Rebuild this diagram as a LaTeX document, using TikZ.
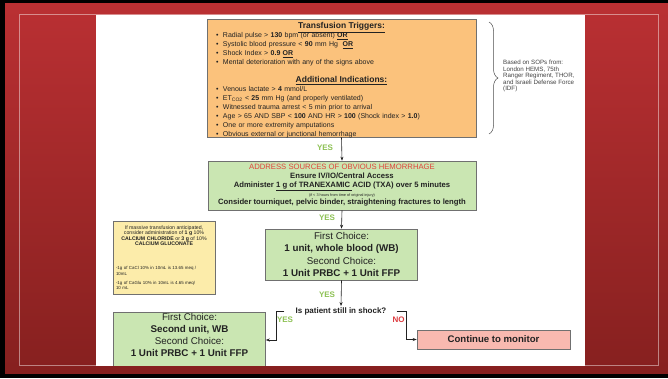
\documentclass[tikz,border=0pt]{standalone}
\usepackage{fontspec}
\setmainfont{Liberation Sans}
\usepackage{xcolor}
\usepackage{tikz}
\usetikzlibrary{arrows.meta, positioning, calc, decorations.pathreplacing}
\definecolor{mtpredtop}{HTML}{BA3033}
\definecolor{mtpredbottom}{HTML}{86201F}
\definecolor{mtporange}{HTML}{FBC27C}
\definecolor{mtpgreen}{HTML}{CAE6B2}
\definecolor{mtppink}{HTML}{F8B9B0}
\definecolor{mtpyellow}{HTML}{FCECAA}
\definecolor{mtpedge}{HTML}{707070}
\definecolor{mtpyes}{HTML}{8DC153}
\definecolor{mtpno}{HTML}{DD3A3E}
\definecolor{mtpalert}{HTML}{E0453B}
\definecolor{mtpcharcoal}{HTML}{222222}
\newcommand{\bul}{\makebox[7pt][l]{\textbullet}}

\begin{document}
\begin{tikzpicture}[
  x=1pt, y=-1pt,
  box/.style={draw=mtpedge, line width=0.6pt, align=center, inner sep=0pt, text=mtpcharcoal},
  trigbox/.style={box, fill=mtporange, minimum width=269pt, minimum height=118pt, align=left, text width=251pt, inner xsep=9pt, font=\fontsize{7}{9}\selectfont},
  txbox/.style={box, fill=mtpgreen, minimum width=268pt, minimum height=49pt, font=\fontsize{7.7}{8.8}\selectfont\bfseries},
  choice/.style={box, fill=mtpgreen, minimum width=152pt, minimum height=51pt, font=\fontsize{9.8}{12.3}\selectfont},
  notebox/.style={box, fill=mtpyellow, minimum width=102pt, minimum height=73pt, align=left, text width=96pt, inner xsep=3pt, font=\fontsize{4.4}{5.3}\selectfont},
  yes/.style={font=\fontsize{8}{9}\selectfont\bfseries, text=mtpyes, inner sep=0pt},
  no/.style={font=\fontsize{8}{9}\selectfont\bfseries, text=mtpno, inner sep=0pt},
  arr/.style={-{Stealth[length=4pt, width=3pt]}, line width=0.6pt, mtpcharcoal}
]
\useasboundingbox (0,0) rectangle (668,378);
\fill[black] (0,0) rectangle (668,378);
\shade[top color=mtpredtop, bottom color=mtpredbottom] (5,3) rectangle (668,373);
\fill[white] (96,14.5) rectangle (585,365.5);
\draw[white, opacity=0.45, line width=0.8pt] (19,14.3) rectangle (658,365.8);

\begin{scope}
\clip (96,14.5) rectangle (585,365.5);

\node[trigbox] (trig) at (341.5,78) {%
{\centering\fontsize{8.5}{9}\selectfont\bfseries\underline{Transfusion Triggers:}\par}
\bul Radial pulse > \textbf{130} bpm (or absent) \textbf{\underline{OR}}\\
\bul Systolic blood pressure < \textbf{90} mm Hg\ \ \textbf{\underline{OR}}\\
\bul Shock Index > \textbf{0.9} \textbf{\underline{OR}}\\
\bul Mental deterioration with any of the signs above\\[9pt]
{\centering\fontsize{8.5}{9}\selectfont\bfseries\underline{Additional Indications:}\par}
\bul Venous lactate > \textbf{4} mmol/L\\
\bul ET\textsubscript{CO2} < \textbf{25} mm Hg (and properly ventilated)\\
\bul Witnessed trauma arrest < 5 min prior to arrival\\
\bul Age > 65 AND SBP < \textbf{100} AND HR > \textbf{100} (Shock index > \textbf{1.0})\\
\bul One or more extremity amputations\\
\bul Obvious external or junctional hemorrhage\par
\vspace{-5pt}};

\draw[decorate, decoration={brace, amplitude=9pt}, mtpcharcoal!80, line width=0.5pt] (489,22) -- (489,134);
\node[anchor=west, align=left, inner sep=0pt, text=mtpcharcoal!85, font=\fontsize{6.2}{6.6}\selectfont] (sops) at (503,76) {Based on SOPs from:\\ London HEMS, 75th\\ Ranger Regiment, THOR,\\ and Israeli Defense Force\\ (IDF)};

\node[txbox] (tx) at (342,185.5) {%
{\mdseries\fontsize{7.7}{8.8}\selectfont\textcolor{mtpalert}{ADDRESS SOURCES OF OBVIOUS HEMORRHAGE}}\\
Ensure IV/IO/Central Access\\
Administer \underline{1 g of TRANEXAMIC }ACID (TXA) over 5 minutes\\
{\mdseries\fontsize{3.8}{4}\selectfont (if < 3 hours from time of original injury)}\\
Consider tourniquet, pelvic binder, straightening fractures to length};

\node[choice] (wb) at (341.5,254.5) {First Choice:\\ \textbf{1 unit, whole blood (WB)}\\ Second Choice:\\ \textbf{1 Unit PRBC + 1 Unit FFP}};

\node[notebox] (calc) at (164,257.5) {%
{\centering\fontsize{5.2}{5.4}\selectfont If massive transfusion anticipated,\\ consider administration of \textbf{1 g} 10\%\\ \textbf{CALCIUM CHLORIDE} or \textbf{3 g} of 10\%\\ \textbf{CALCIUM GLUCONATE}\par}
\vspace{19pt}
-1g of CaCl 10\% in 10mL is 13.65 meq /\\ 10mL\par
\vspace{3.6pt}
-1g of CaGlu 10\% in 10mL is 4.65 meq/\\ 10 mL};

\node[font=\fontsize{8}{9}\selectfont\bfseries, text=mtpcharcoal, inner sep=1pt] (shock) at (341,311) {Is patient still in shock?};

\node[choice, minimum height=56pt] (wb2) at (189.5,340) {};
\node[align=center, inner sep=0pt, text=mtpcharcoal, font=\fontsize{9.8}{12.3}\selectfont] (wb2txt) at (189.5,335) {First Choice:\\ \textbf{Second unit, WB}\\ Second Choice:\\ \textbf{1 Unit PRBC + 1 Unit FFP}};

\node[box, fill=mtppink, minimum width=153pt, minimum height=19pt, font=\fontsize{9.6}{10}\selectfont\bfseries] (monitor) at (493.5,339.5) {Continue to monitor};

\node[yes] (yes1) at (325,148) {YES};
\node[yes] (yes2) at (327,218) {YES};
\node[yes] (yes3) at (327,295) {YES};
\node[yes] (yes4) at (285,320) {YES};
\node[no] (no1) at (398.5,320) {NO};

\draw[arr] (trig.south) -- (tx.north);
\draw[arr] (tx.south) -- (wb.north);
\draw[arr] (wb.south) -- (shock.north);
\draw[arr] ([xshift=-10pt]shock.west) -- ++(-8,0) |- (wb2.east);
\draw[arr] ([xshift=9pt]shock.east) -- ++(10,0) |- (monitor.west);
\end{scope}
\end{tikzpicture}
\end{document}
